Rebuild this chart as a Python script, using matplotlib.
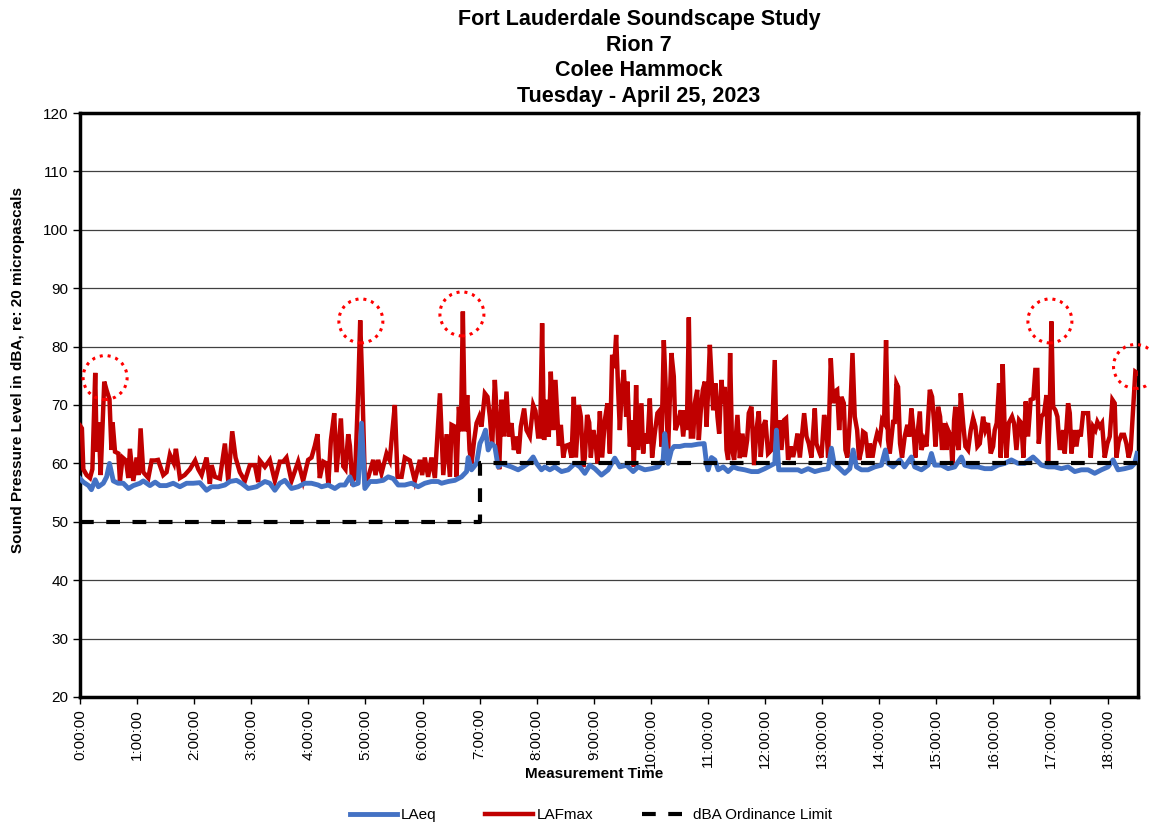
import matplotlib
matplotlib.use('Agg')
import matplotlib.pyplot as plt
from matplotlib.patches import Ellipse
import numpy as np

plt.rcParams['font.family'] = ['Liberation Sans', 'DejaVu Sans']

# LAFmax, minutes after midnight / dBA
lafmax_min = [
    0, 2, 3.5, 7, 10.5, 13, 16, 17.5, 19.6, 21.7, 25.5, 28, 31, 33, 34.3, 36.8,
    40.3, 42, 44.8, 48.3, 50.8, 52.5, 56, 59.5, 61.6, 63.7, 66.5, 71.8, 75.3,
    78.8, 82, 87.5, 91, 94.5, 98.7, 100.8, 105, 110, 115.5, 121, 124.3, 127.8,
    133, 136.5, 138.3, 141.8, 147, 152.3, 155.8, 160, 163.5, 168, 173.3, 178.5,
    183.8, 187.3, 189, 194.3, 199.5, 204.8, 210, 213.5, 217, 222.3, 229.3,
    234.5, 239.8, 243.3, 246.8, 249.6, 252, 255.7, 259, 261, 263.7, 267.2,
    269.6, 274.2, 276.7, 279, 281.9, 283.7, 286, 289, 292.4, 294.5, 296.6,
    299.4, 303, 308.2, 310.6, 313.4, 316.9, 322.2, 325.6, 328, 330.9, 333.7,
    338, 341.4, 346.7, 351.9, 357.2, 359.6, 362.4, 365.9, 369.4, 373, 378.3,
    381.8, 385.3, 388.8, 390.5, 394, 395.8, 398.2, 400.3, 402.4, 404.5, 407,
    409.4, 411.5, 414.3, 416.8, 419.6, 422, 425.5, 428.3, 430.8, 433.2, 436,
    438.5, 440.6, 443, 445.5, 448.3, 450.7, 453.5, 456, 458.8, 461.2, 463.3,
    466.8, 469.3, 472.8, 476.3, 478.7, 481.5, 483.6, 485.7, 487.8, 490.3,
    492.7, 494.8, 497.3, 499.7, 503.3, 505.4, 507.9, 510.3, 513.8, 516.6, 519,
    521.2, 524.3, 526.4, 528.9, 530.6, 533, 535.2, 536.9, 539.4, 541.8, 543.9,
    546.4, 548.8, 551.6, 554.4, 556.9, 559.3, 561.4, 563.5, 565.6, 567.4,
    569.1, 571.6, 574, 575.4, 577.9, 580.3, 582.1, 584.5, 586.6, 590.1, 591.9,
    593.6, 596.4, 598.9, 601.3, 604.1, 606.9, 609.4, 611.1, 613.6, 615.7,
    618.1, 621.6, 624.1, 625.8, 628.7, 631.5, 634, 636.4, 637.8, 639.9, 642,
    644.5, 646.2, 648.7, 650.4, 652.5, 654.6, 656.7, 658.5, 660.2, 662, 663.7,
    665.5, 667.9, 670, 671.8, 674.2, 676, 677.7, 679.5, 681.2, 683.3, 685.4,
    687.5, 691, 693.5, 696.3, 698.7, 701.2, 702.9, 705.7, 708.5, 711, 713.4,
    715.5, 718, 720.4, 723.2, 726.7, 730.2, 732.3, 735.1, 737.2, 740, 742.1,
    744.2, 747, 749.5, 751.9, 754.1, 756.6, 759, 761.1, 763.6, 766, 768.8,
    772.3, 774, 777.6, 779.3, 782.1, 784.6, 786.3, 789.1, 791.6, 793.3, 795.8,
    797.9, 800.3, 802.8, 804.5, 806.6, 809.4, 811.9, 814.3, 816.8, 818.9,
    821.3, 823.1, 825.5, 828.3, 830.1, 832.9, 835.3, 837.8, 840.6, 843, 845.1,
    847.2, 849.3, 851.1, 854.6, 856.3, 858.1, 859.8, 861.9, 864, 866.8, 869.6,
    871.7, 873.8, 876, 878, 879.2, 882.7, 884.4, 887.2, 889.7, 893.2, 895.6,
    897.7, 899.1, 901.9, 904, 906.1, 908.9, 910.7, 912.4, 915.2, 917, 918.7,
    920.1, 922.2, 923.6, 925.7, 928.2, 930.6, 933.4, 936.2, 938.7, 941.1,
    943.2, 945.7, 949.2, 951.6, 954.4, 957.2, 959.7, 961.4, 963.5, 966, 967.7,
    969.8, 971.9, 973.7, 976.1, 979.6, 981.7, 984.2, 987, 989.4, 991.5, 994,
    996.4, 999.2, 1002, 1004.1, 1006.2, 1007.7, 1010.5, 1013.3, 1015.8,
    1017.5, 1019.3, 1021, 1022.8, 1025.2, 1027.3, 1029.8, 1031.5, 1033.3,
    1035, 1038.5, 1040.3, 1042, 1044.8, 1047.3, 1049.7, 1051.8, 1054.3,
    1056.7, 1059.5, 1062.3, 1064.8, 1067.2, 1069.3, 1071.8, 1074.2, 1077,
    1079.8, 1082.3, 1085.1, 1087.5, 1089.3, 1091.7, 1094.5, 1097.3, 1099.8,
    1102.2, 1104.3, 1106.8, 1109.2, 1111,
]
lafmax_db = [
    66.5, 66, 59, 58, 57.5, 59, 75.5, 62, 67, 58, 74, 72.5, 71, 62.3, 67, 62,
    61.7, 57, 61, 60.5, 57.5, 62.5, 57, 61, 58, 66, 58.5, 57.5, 60.5,
    60.5, 60.6, 58, 58.5, 61.5, 60, 62.5, 57.5, 58, 59, 60.5, 59, 58,
    61, 56.5, 59.7, 57.7, 57.4, 63.4, 57, 65.5, 61, 58.5, 57, 59.7,
    59.7, 56.8, 60.5, 59.4, 60.6, 57, 60.3, 60.3, 61, 57, 60.3,
    57, 60.6, 61, 63, 65, 57.5, 60.3, 60, 56.5, 64, 68.6,
    58.5, 67.7, 59.5, 59, 65, 63, 57, 57.5, 72.5, 84.5, 74,
    57, 57.7, 60.6, 58, 60.6, 58.3, 61.7, 60.5, 65, 70, 57.7,
    57.7, 61, 60.5, 57, 60.6, 58, 61, 57.7, 61, 57.5, 72,
    58, 65, 57.7, 66.6, 66.3, 57.7, 69.7, 65.5, 86, 65.5, 71.7,
    62.3, 60, 64, 66.9, 68, 66.3, 72, 71.4, 68, 62.9, 74.3,
    66.9, 59, 70.9, 64.6, 72.3, 64.6, 66.9, 62.3, 64.6, 61.7, 66.3,
    69.4, 65.7, 64.6, 70, 69, 64.6, 64.6, 84, 64, 70.9,
    64.6, 75.7, 65.7, 74.3, 63, 66.6, 61, 63, 63.2, 61, 71.4,
    61, 70, 68, 59.4, 61, 68.3, 67, 61, 65.7, 63.7, 60,
    68.9, 61, 67.4, 70.3, 61.7, 78.6, 76.3, 82, 72.6, 65.7,
    72, 76, 68, 74, 62.9, 67.4, 59.4, 73.4, 62.3, 70.3, 61.7,
    65.1, 63.4, 71.1, 61, 65.1, 68.6, 69.1, 62.9, 81.1, 72.6,
    62.3, 78.9, 74.9, 65.7, 67, 69.1, 64.6, 69.1, 65.7, 85, 64.6,
    64.6, 70.3, 72.6, 64, 69.1, 72.6, 74, 66.3, 72.6, 80.3, 74.9,
    69.1, 73.7, 68, 65.1, 74.3, 70.3, 73.1, 62.3, 60.6, 78.9, 62.3,
    60.6, 68.3, 60.9, 65.1, 61.1, 64, 68.6, 69.7, 59.7, 65.7, 68.9,
    61.1, 66.3, 67.4, 61.7, 62.3, 77.7, 61.1, 67.4, 62.3, 67.4, 67.7,
    60.6, 62.9, 61.1, 62.9, 65.1, 61, 65, 68.6, 64.6, 63.4, 61,
    69.4, 63.4, 61.7, 61, 68.3, 65.7, 61, 78, 70.3, 72.3, 72.6,
    65.7, 71.4, 70.3, 62.3, 61, 68, 78.9, 68, 65.7, 60.6,
    62.3, 65.4, 65.1, 61, 63.4, 61, 63.4, 65.1, 64, 67.4, 66.9,
    81.1, 64, 61.7, 67.1, 67.1, 73.7, 73.1, 63.4, 61, 64.6, 66.6,
    64.6, 69.4, 65.7, 61, 63.4, 68.9, 62.3, 64, 62.9, 72.6, 71.4,
    66.9, 62.9, 69.7, 68, 62.3, 66.9, 62.3, 65.7, 64.6, 59.4, 67.4,
    69.7, 63.4, 62.3, 72, 66.9, 62.9, 62.3, 65.7, 67.7, 66.3,
    62.9, 63.4, 68, 65.7, 66.9, 61.7, 62.9, 65.7, 66.9, 73.7, 61,
    77, 65.7, 61, 66.9, 68, 66.9, 62.3, 67.4, 66.9, 61, 70.6,
    64.6, 70.9, 71.1, 76, 76, 63.4, 68, 68.6, 71.7,
    60, 69.7, 84.3, 69.7, 69.1, 68, 62.3, 64, 65.7,
    61.7, 70.3, 68.6, 61.7, 65.7, 62.9, 65.7, 64.6, 68.6,
    68.6, 68.6, 61, 66.3, 65.7, 67.1, 66.3, 66.9, 61,
    63.4, 64.6, 70.9, 70.3, 61, 63.7, 64.9, 64.9, 63.4,
    61, 62.3, 69.1, 75.7, 75.5,
]

# LAeq, minutes / dBA
laeq_min = [
    0, 3.5, 9, 12, 16, 19.3, 24.5, 28, 31, 35, 40, 45.5, 51, 56, 63, 66.5,
    73.5, 79, 84, 91, 98, 105, 112, 119, 126, 133, 138.3, 145.3, 152.3,
    157.6, 164.5, 169.8, 176.8, 185.5, 194.3, 199.5, 204.8, 210, 215.3, 222.3,
    229.3, 236.3, 243.3, 250.3, 253.9, 260.9, 267.9, 273.2, 278.4, 283.7,
    287.2, 292.4, 295.9, 299.4, 304.7, 311.7, 318.7, 323.9, 329.2, 334.4,
    341.4, 348.4, 355.4, 362.4, 369.4, 376.4, 380, 387, 394, 401, 406.3, 408,
    411.5, 416.8, 420.3, 423.8, 426.2, 429, 432.5, 436, 439.5, 443, 448.3,
    453.5, 460.5, 465.8, 471, 476.3, 479.8, 485, 488.5, 493.8, 499, 506.1,
    513.1, 520.1, 525.4, 530.6, 535.9, 541.1, 548.1, 555.1, 562.1, 567.4,
    574.4, 581.4, 586.6, 593.6, 600.6, 607.6, 612.9, 614.6, 618.1, 621.6,
    624.4, 630.4, 635.7, 642.7, 649.7, 656, 658.5, 660.2, 663.7, 667.2, 670.7,
    676, 681.2, 686.5, 691.7, 698.7, 705.7, 712.7, 719.7, 726.7, 730.2, 732,
    734.4, 740.7, 747.7, 754.7, 758.3, 765.3, 772.3, 779.3, 786.3, 789.8,
    792.6, 798.6, 803.8, 809.1, 812.6, 816.1, 821.3, 828.3, 835.3, 842.3,
    846.5, 849.3, 854.6, 861.6, 866.8, 873.8, 877.3, 884.4, 891.4, 894.9,
    898.4, 905.4, 912.4, 919.4, 926.4, 929.9, 936.9, 943.9, 950.9, 957.9,
    964.9, 971.9, 978.9, 985.9, 992.9, 1001.7, 1006.9, 1010.5, 1017.5,
    1024.5, 1031.5, 1038.5, 1045.5, 1052.5, 1059.5, 1066.5, 1073.5, 1080.5,
    1085.8, 1091, 1098, 1105, 1108.5, 1111,
]
laeq_db = [
    57.4, 56.8, 56.2, 55.5, 57.2, 56, 56.6, 57.7, 60, 57, 56.6, 56.6, 55.7,
    56.2, 56.6, 57, 56.2, 56.8, 56.2, 56.2, 56.6, 56, 56.6, 56.6, 56.7, 55.4,
    56, 56, 56.3, 56.9, 57.1, 56.6, 55.7, 56, 56.9, 56.6, 55.4, 56.6, 57.1,
    55.7, 56, 56.6, 56.6, 56.3, 56, 56.3, 55.7, 56.3, 56.3, 57.7, 56.3, 56.6,
    66.9, 55.7, 56.9, 56.9, 57.1, 57.7, 57.4, 56.3, 56.3, 56.6, 56, 56.6,
    56.9, 56.9, 56.6, 56.9, 57.1, 57.7, 58.6, 61, 58.9, 60, 63.4, 64.6, 65.7,
    62.3, 63.4, 62.9, 59.4, 60, 59.7, 59.4, 58.9, 59.4, 60, 61.1, 60, 58.9,
    59.4, 58.9, 59.4, 58.6, 58.9, 60, 59.4, 58.3, 59.7, 59.1, 58, 58.9, 60.9,
    59.4, 59.7, 58.6, 59.4, 58.9, 59.1, 59.4, 60.6, 65.1, 60, 62.3, 62.9,
    62.9, 63.1, 63.1, 63.3, 63.4, 60, 58.9, 61, 60.6, 58.9, 59.4, 58.6, 59.4,
    59.1, 58.9, 58.6, 58.6, 59.1, 59.7, 60, 65.7, 58.9, 58.9, 58.9, 58.9,
    58.6, 59.1, 58.6, 58.9, 59.1, 62.6, 60, 59.1, 58.3, 59.1, 62.3, 59.4,
    58.9, 58.9, 59.4, 59.7, 62.3, 60, 59.4, 60.6, 59.4, 61.1, 59.4, 58.9,
    59.7, 61.7, 59.7, 59.7, 59.1, 59.4, 61.1, 59.7, 59.4, 59.4, 59.1, 59.1,
    59.7, 60, 60.6, 60, 60, 61.1, 60.3, 59.7, 59.4, 59.4, 59.1, 59.4, 58.6,
    58.9, 58.9, 58.3, 58.9, 59.4, 60.6, 58.9, 59.1, 59.4, 60, 61.7,
]

# ordinance limit: 50 dBA until 7:00, 60 dBA afterwards
limit_min = [0, 420, 420, 1112]
limit_db = [50, 50, 60, 60]

# dotted circles marking the highlighted peaks (hours, dBA)
circle_h = [0.44, 4.92, 6.69, 16.99, 18.49]
circle_db = [74.7, 84.4, 85.6, 84.4, 76.6]

hour_ticks = list(range(0, 19))
hour_labels = ['%d:00:00' % h for h in hour_ticks]

fig = plt.figure(figsize=(11.49, 8.24), dpi=100)
ax = fig.add_axes([80 / 1149, 127 / 824, 1058 / 1149, 584 / 824])

ax.plot(np.array(lafmax_min) / 60, lafmax_db, color='#C00000', lw=3.2,
        label='LAFmax', zorder=3, solid_joinstyle='miter')
ax.plot(np.array(laeq_min) / 60, laeq_db, color='#4472C4', lw=3.5,
        label='LAeq', zorder=4)
ax.plot(np.array(limit_min) / 60, limit_db, color='black', lw=3,
        dashes=(3.3, 3.0), label='dBA Ordinance Limit', zorder=5)

# circles are drawn in data units sized to look round at this axes size
w = 44 / 57.1
hgt = 44 / 5.84
for ch, cd in zip(circle_h, circle_db):
    ax.add_patch(Ellipse((ch, cd), w, hgt, fill=False, edgecolor='#FF0000',
                         lw=2.2, linestyle=(0, (1, 1.6)), clip_on=False,
                         zorder=6))

ax.set_xlim(0, 1112 / 60)
ax.set_ylim(20, 120)
ax.set_yticks(range(20, 121, 10))
ax.set_xticks(hour_ticks)
ax.set_xticklabels(hour_labels, rotation=90)
ax.tick_params(axis='both', labelsize=11, direction='out', length=5,
               width=1, color='black')
ax.yaxis.grid(True, color='#404040', lw=0.9)
ax.set_axisbelow(True)
for s in ax.spines.values():
    s.set_linewidth(2.5)
    s.set_color('black')

# title lines placed one by one to match the chart's line spacing
title_lines = ['Fort Lauderdale Soundscape Study', 'Rion 7', 'Colee Hammock',
               'Tuesday - April 25, 2023']
for i, line in enumerate(title_lines):
    fig.text(639 / 1149, 1 - (20 + 25.5 * i) / 824, line, ha='center',
             va='center', fontsize=15.5, fontweight='bold')
fig.text(18 / 1149, 1 - 370 / 824, 'Sound Pressure Level in dBA, re: 20 micropascals',
         rotation=90, ha='center', va='center', fontsize=11, fontweight='bold')
fig.text(594 / 1149, 1 - 774 / 824, 'Measurement Time',
         ha='center', va='center', fontsize=11, fontweight='bold')

handles, labels = ax.get_legend_handles_labels()
order = [1, 0, 2]
fig.legend([handles[i] for i in order], [labels[i] for i in order],
           loc='center', bbox_to_anchor=(591 / 1149, 1 - 815 / 824), ncol=3,
           frameon=False, fontsize=11, handlelength=3.1, handletextpad=0.25,
           columnspacing=3.2)

plt.savefig('out.png', dpi=100)
